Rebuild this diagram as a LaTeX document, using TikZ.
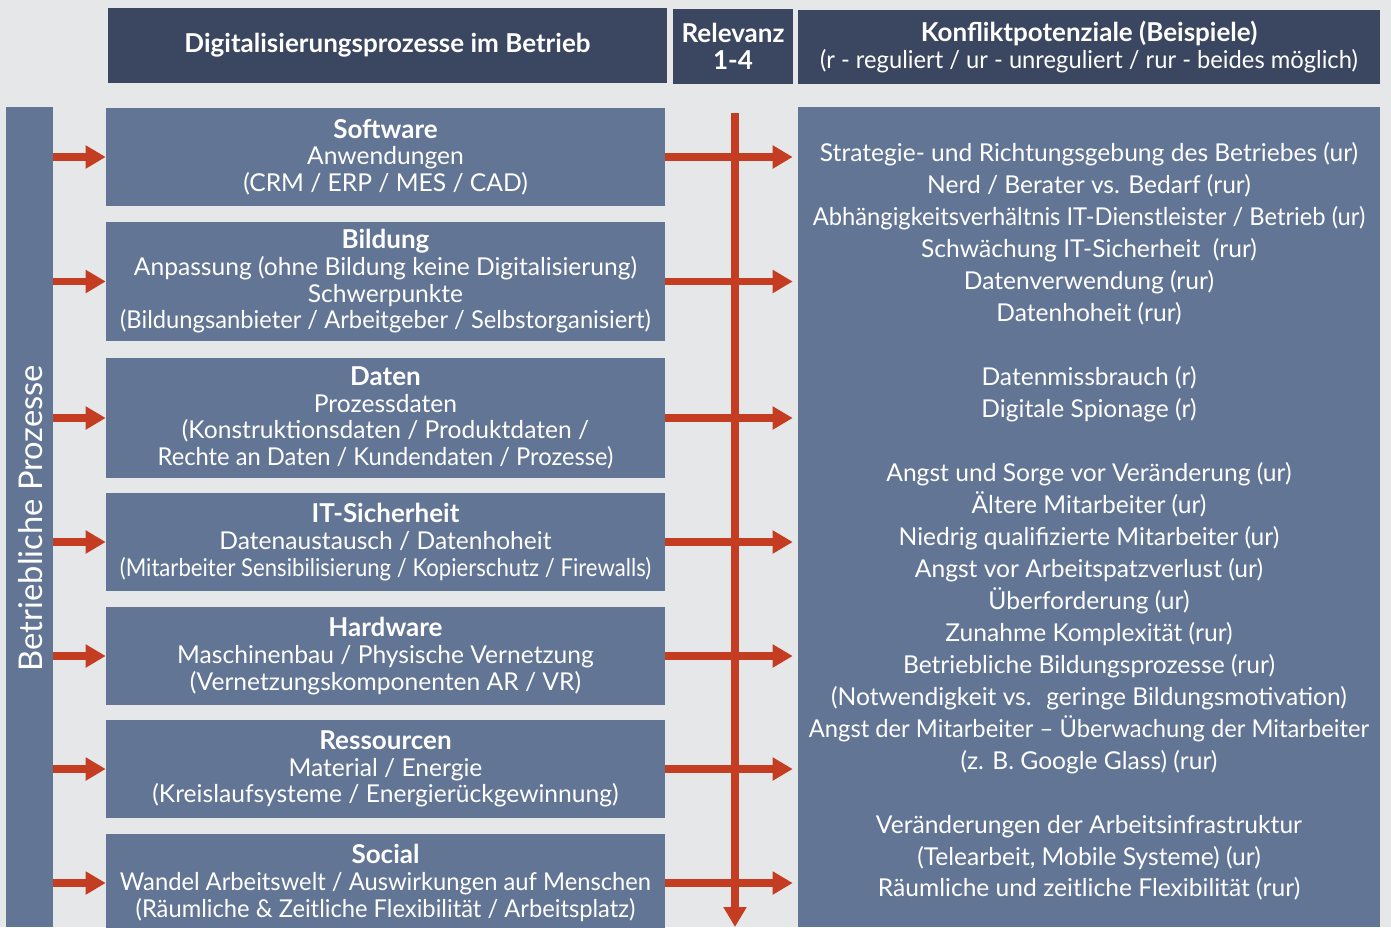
\documentclass[tikz,border=0pt]{standalone}
\usepackage{fontspec}
\usepackage{graphicx}
\setmainfont{Lato}
\usetikzlibrary{arrows.meta, positioning}
\definecolor{cbg}{HTML}{E6E7E9}
\definecolor{chead}{HTML}{3B4760}
\definecolor{cbox}{HTML}{627594}
\definecolor{cred}{HTML}{C43D22}
\newcommand{\hd}[1]{{\fontsize{14.8}{15}\selectfont\bfseries #1}}
\newcommand{\sq}[1]{\scalebox{0.965}[1]{#1}}
\tikzset{
  every picture/.style={font=\fontsize{14}{15.2}\selectfont},
  head/.style={fill=chead, text=white, align=center, inner sep=0pt, minimum height=1.5cm, font=\fontsize{14}{15.5}\selectfont},
  proc/.style={fill=cbox, text=white, align=center, inner sep=0pt, minimum width=11.18cm, minimum height=#1},
  proc/.default=1.96cm,
  arrow/.style={draw=cred, line width=4.5pt, -{Triangle[length=0.4cm, width=0.44cm]}},
}
\begin{document}
\begin{tikzpicture}[x=0.02cm, y=-0.02cm]
  \clip (0,0) rectangle (1391,927);
  \fill[cbg] (0,0) rectangle (1391,927);
  % ---- headers
  \node[head, minimum width=11.18cm] (hdig) at (387.5,45.5) {\hd{Digitalisierungsprozesse im Betrieb}};
  \node[head, minimum width=2.4cm] (hrel) at (733,46.5) {\hd{Relevanz}\\\hd{1-4}};
  \node[head, minimum width=11.64cm] (hkon) at (1089,47) {\hd{Konfliktpotenziale (Beispiele)}\\\sq{(r - reguliert / ur - unreguliert / rur - beides möglich)}};
  % ---- left bar
  \node[fill=cbox, inner sep=0pt, minimum width=0.94cm, minimum height=16.4cm, anchor=north] (bar) at (29.5,107) {};
  \node[rotate=90, text=white, font=\fontsize{18.6}{22}\selectfont] (bartxt) at (31,518) {Betriebliche Prozesse};
  % ---- processes
  \node[proc] (soft) at (385.5,157) {\hd{Software}\\Anwendungen\\(CRM / ERP / MES / CAD)};
  \node[proc=2.38cm] (bild) at (385.5,281.5) {\hd{Bildung}\\Anpassung (ohne Bildung keine Digitalisierung)\\Schwerpunkte\\\sq{(Bildungsanbieter / Arbeitgeber / Selbstorganisiert)}};
  \node[proc=2.4cm] (date) at (385.5,418) {\hd{Daten}\\Prozessdaten\\(Konstruktionsdaten / Produktdaten /\\\sq{Rechte an Daten / Kundendaten / Prozesse)}};
  \node[proc] (itsi) at (385.5,542) {\hd{IT-Sicherheit}\\Datenaustausch / Datenhoheit\\\scalebox{0.9}[1]{(Mitarbeiter Sensibilisierung / Kopierschutz / Firewalls)}};
  \node[proc] (hard) at (385.5,656) {\hd{Hardware}\\Maschinenbau / Physische Vernetzung\\(Vernetzungskomponenten AR / VR)};
  \node[proc] (ress) at (385.5,769) {\hd{Ressourcen}\\Material / Energie\\(Kreislaufsysteme / Energierückgewinnung)};
  \node[proc] (soci) at (385.5,883) {\hd{Social}\\\sq{Wandel Arbeitswelt / Auswirkungen auf Menschen}\\\sq{(Räumliche \& Zeitliche Flexibilität / Arbeitsplatz)}};
  % ---- conflicts
  \node[fill=cbox, inner sep=0pt, minimum width=11.64cm, minimum height=16.4cm, anchor=north] (kon) at (1089,107) {};
  \node[text=white, align=center, font=\fontsize{14}{18.2}\selectfont] (kontxt) at (1089,521.5) {%
    Strategie- und Richtungsgebung des Betriebes (ur)\\
    Nerd / Berater vs. Bedarf (rur)\\
    \sq{Abhängigkeitsverhältnis IT-Dienstleister / Betrieb (ur)}\\
    Schwächung IT-Sicherheit~ (rur)\\
    Datenverwendung (rur)\\
    Datenhoheit (rur)\\ \mbox{}\\
    Datenmissbrauch (r)\\
    Digitale Spionage (r)\\ \mbox{}\\
    Angst und Sorge vor Veränderung (ur)\\
    Ältere Mitarbeiter (ur)\\
    Niedrig qualifizierte Mitarbeiter (ur)\\
    Angst vor Arbeitspatzverlust (ur)\\
    Überforderung (ur)\\
    Zunahme Komplexität (rur)\\
    Betriebliche Bildungsprozesse (rur)\\
    (Notwendigkeit vs.~ geringe Bildungsmotivation)\\
    \sq{Angst der Mitarbeiter -- Überwachung der Mitarbeiter}\\
    (z. B. Google Glass) (rur)\\ \mbox{}\\
    Veränderungen der Arbeitsinfrastruktur\\
    (Telearbeit, Mobile Systeme) (ur)\\
    Räumliche und zeitliche Flexibilität (rur)};
  % ---- arrows
  \foreach \b in {soft,bild,date,itsi,hard,ress,soci} {
    \draw[arrow] (bar.east |- \b.west) -- (\b.west);
    \draw[arrow, shorten >=0.1cm] (\b.east) -- (kon.west |- \b.east);
  }
  \coordinate (vtop) at (735,113);
  \coordinate (vbot) at (735,927);
  \draw[arrow] (vtop) -- (vbot);
\end{tikzpicture}
\end{document}
